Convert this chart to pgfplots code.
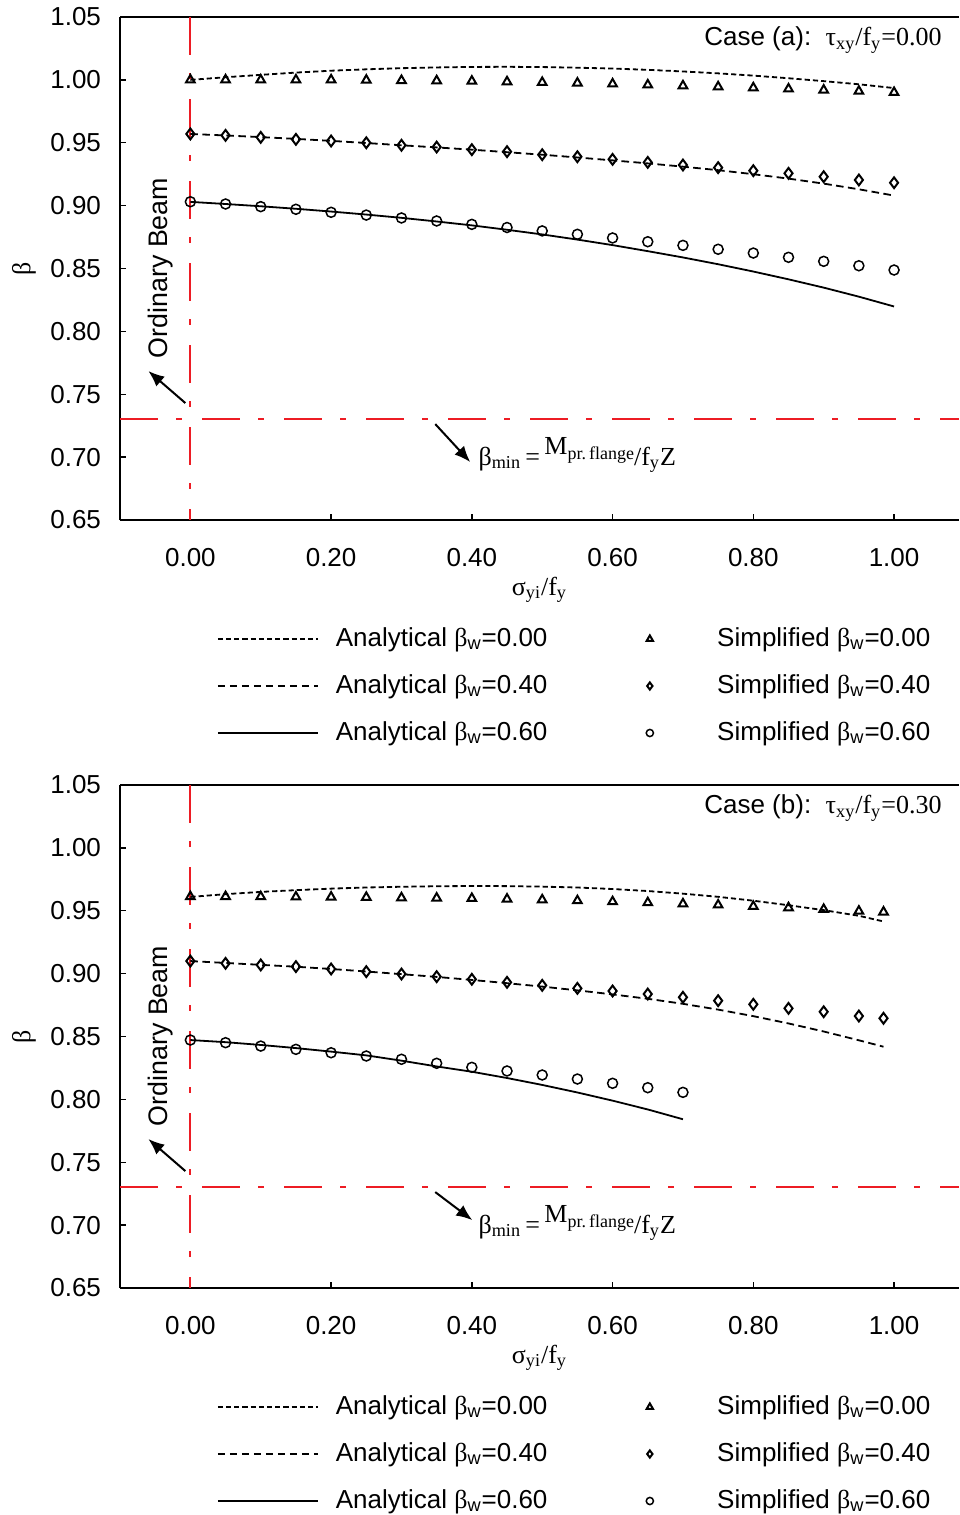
\documentclass[border=0pt]{standalone}
\usepackage{fontspec}
\setmainfont{Liberation Sans}
\newfontfamily\serif{Liberation Serif}
\usepackage{pgfplots}
\pgfplotsset{compat=1.18}
\usetikzlibrary{arrows.meta}
\definecolor{myred}{RGB}{237,28,36}
\newcommand\bw{{\serif β}\textsubscript{w}}
\newcommand\fs{\fontsize{13}{15.6}\selectfont}

\pgfplotsset{
 panel/.style={
  scale only axis, width=419.5pt, height=251.5pt,
  xmin=-0.1, xmax=1.0923, ymin=0.65, ymax=1.05,
  axis x line=box, axis y line=left,
  axis line style={-, line width=0.8pt, black},
  xtick={0,0.2,0.4,0.6,0.8,1.0},
  ytick={0.65,0.7,0.75,0.8,0.85,0.9,0.95,1,1.05},
  xtick pos=left, ytick pos=left,
  tick align=inside, major tick length=3pt,
  tick style={black, line width=0.7pt},
  /pgf/number format/fixed, /pgf/number format/fixed zerofill,
  /pgf/number format/precision=2, /pgf/number format/assume math mode=true,
  tick label style={font=\fs},
  xticklabel style={anchor=base, yshift=-23pt},
  yticklabel style={xshift=-6pt},
  xlabel={{\serif σ\textsubscript{yi}/f\textsubscript{y}}},
  ylabel={{\serif β}},
  label style={font=\fs},
  xlabel style={at={(axis description cs:0.5,0)}, anchor=base, yshift=-37.5pt},
  ylabel style={at={(axis description cs:-0.1144,0.5)}, anchor=center},
  legend columns=2,
  legend cell align=left,
  legend style={draw=none, fill=none, at={(axis description cs:0.1156,-0.2127)}, anchor=north west,
    inner sep=0pt, outer sep=0pt, font=\fs, row sep=11.5pt,
    nodes={inner sep=0pt, text height=9.5pt, text depth=2.5pt},
    /tikz/every odd column/.append style={column sep=8.5pt},
    /tikz/every even column/.append style={column sep=26pt}},
  legend image post style={mark size=1.8pt},
  legend image code/.code={\path (0pt,0pt) (50pt,0pt);\draw[mark repeat=2,mark phase=2,#1] plot coordinates {(0pt,0pt) (25pt,0pt) (50pt,0pt)};},
 },
 redh/.style={draw=myred, color=myred, line width=1pt, dash pattern=on 19pt off 9pt on 3pt off 10pt, forget plot},
 redv/.style={draw=myred, color=myred, line width=1pt, dash pattern=on 19pt off 9pt on 3pt off 10pt, forget plot},
 a0/.style={black, line width=0.9pt, dash pattern=on 2.6pt off 1.5pt, mark=none},
 a4/.style={black, line width=0.9pt, dash pattern=on 3.8pt off 2.2pt, mark=none},
 a6/.style={black, line width=0.9pt, solid, mark=none},
 s0/.style={black, only marks, mark=triangle, mark size=2.5pt, mark options={solid, line width=1pt}},
 s4/.style={black, only marks, mark=diamond, mark size=2.7pt, mark options={solid, line width=1pt}},
 s6/.style={black, only marks, mark=o, mark size=2.5pt, mark options={solid, line width=0.75pt}},
}
\newcommand\bmin{β\textsubscript{min}\,=\,\raisebox{5.5pt}{M{\fontsize{9}{10}\selectfont\raisebox{-2.5pt}{pr.\,flange}}}/f\textsubscript{y}Z}

\begin{document}
\begin{tikzpicture}
% ---------------- Case (a) ----------------
\begin{axis}[panel, at={(60pt,-260pt)}, anchor=south west]
\addplot[redh] coordinates {(-0.1,0.73) (1.0923,0.73)};
\addplot[redv] coordinates {(0,1.05) (0,0.65)};

\addplot[a0] coordinates {(0,1.000) (0.05,1.0021) (0.1,1.004) (0.15,1.0058) (0.2,1.0073) (0.25,1.0084) (0.3,1.0093) (0.35,1.0099) (0.4,1.0103) (0.45,1.0104) (0.5,1.0102) (0.55,1.0097) (0.6,1.009) (0.65,1.008) (0.7,1.0067) (0.75,1.0052) (0.8,1.0034) (0.85,1.0013) (0.9,0.999) (0.95,0.9965) (1.0,0.9935)};
\addlegendentry{Analytical \bw=0.00}
\addplot[s0] coordinates {(0,1.000) (0.05,1.000) (0.1,1.000) (0.15,1.000) (0.2,1.000) (0.25,0.9998) (0.3,0.9995) (0.35,0.9993) (0.4,0.999) (0.45,0.9985) (0.5,0.998) (0.55,0.9975) (0.6,0.9968) (0.65,0.996) (0.7,0.9953) (0.75,0.9945) (0.8,0.9937) (0.85,0.9928) (0.9,0.9919) (0.95,0.991) (1.0,0.990)};
\addlegendentry{Simplified \bw=0.00}
\addplot[a4] coordinates {(0,0.957) (0.05,0.9558) (0.1,0.9545) (0.15,0.9531) (0.2,0.9515) (0.25,0.9498) (0.3,0.948) (0.35,0.9463) (0.4,0.9445) (0.45,0.9425) (0.5,0.9405) (0.55,0.9383) (0.6,0.936) (0.65,0.9336) (0.7,0.931) (0.75,0.9282) (0.8,0.925) (0.85,0.9215) (0.9,0.9175) (0.95,0.913) (1.0,0.908)};
\addlegendentry{Analytical \bw=0.40}
\addplot[s4] coordinates {(0,0.957) (0.05,0.9559) (0.1,0.9543) (0.15,0.9527) (0.2,0.9514) (0.25,0.950) (0.3,0.948) (0.35,0.9466) (0.4,0.9445) (0.45,0.9429) (0.5,0.9405) (0.55,0.9389) (0.6,0.9368) (0.65,0.9344) (0.7,0.9323) (0.75,0.9302) (0.8,0.9278) (0.85,0.9257) (0.9,0.923) (0.95,0.9204) (1.0,0.9182)};
\addlegendentry{Simplified \bw=0.40}
\addplot[a6] coordinates {(0,0.903) (0.05,0.9013) (0.1,0.8995) (0.15,0.8975) (0.2,0.8953) (0.25,0.8929) (0.3,0.8903) (0.35,0.8874) (0.4,0.8843) (0.45,0.8808) (0.5,0.8771) (0.55,0.873) (0.6,0.8686) (0.65,0.8638) (0.7,0.8588) (0.75,0.8534) (0.8,0.8476) (0.85,0.8414) (0.9,0.8348) (0.95,0.8276) (1.0,0.8198)};
\addlegendentry{Analytical \bw=0.60}
\addplot[s6] coordinates {(0,0.9031) (0.05,0.9013) (0.1,0.8992) (0.15,0.8971) (0.2,0.8947) (0.25,0.8925) (0.3,0.8902) (0.35,0.8878) (0.4,0.8851) (0.45,0.8826) (0.5,0.8799) (0.55,0.8772) (0.6,0.8743) (0.65,0.8713) (0.7,0.8684) (0.75,0.8653) (0.8,0.8623) (0.85,0.8589) (0.9,0.8557) (0.95,0.8522) (1.0,0.8488)};
\addlegendentry{Simplified \bw=0.60}

\draw[-{Latex[length=8pt,width=6.5pt]}, line width=1pt] (axis cs:-0.0071,0.743) -- (axis cs:-0.0597,0.7685);
\node[rotate=90, font=\fontsize{13.4}{16}\selectfont, inner sep=0pt] at (axis cs:-0.0426,0.8504) {Ordinary Beam};
\draw[-{Latex[length=8pt,width=6.5pt]}, line width=1pt] (axis cs:0.348,0.7263) -- (axis cs:0.3977,0.6961);
\node[anchor=base west, inner sep=0pt, font=\serif\fontsize{13}{15}\selectfont] at (axis cs:0.409,0.6937) {\bmin};
\node[anchor=base east, inner sep=0pt, font=\fs] at (axis cs:1.068,1.027) {Case (a):\ \ {\serif τ\textsubscript{xy}/f\textsubscript{y}=0.00}};
\end{axis}

% ---------------- Case (b) ----------------
\begin{axis}[panel, at={(60pt,-644pt)}, anchor=south west]
\addplot[redh] coordinates {(-0.1,0.73) (1.0923,0.73)};
\addplot[redv] coordinates {(0,1.05) (0,0.65)};

\addplot[a0] coordinates {(0,0.961) (0.05,0.9632) (0.1,0.965) (0.15,0.9664) (0.2,0.9676) (0.25,0.9685) (0.3,0.9691) (0.35,0.9695) (0.4,0.9697) (0.45,0.9696) (0.5,0.9692) (0.55,0.9685) (0.6,0.9673) (0.65,0.9657) (0.7,0.9636) (0.75,0.9611) (0.8,0.958) (0.85,0.9544) (0.9,0.9505) (0.95,0.946) (0.985,0.9415)};
\addlegendentry{Analytical \bw=0.00}
\addplot[s0] coordinates {(0,0.9612) (0.05,0.9613) (0.1,0.9612) (0.15,0.961) (0.2,0.9609) (0.25,0.9607) (0.3,0.9603) (0.35,0.9601) (0.4,0.9598) (0.45,0.9593) (0.5,0.9587) (0.55,0.958) (0.6,0.9572) (0.65,0.9564) (0.7,0.9555) (0.75,0.9546) (0.8,0.9535) (0.85,0.9524) (0.9,0.9511) (0.95,0.9497) (0.985,0.949)};
\addlegendentry{Simplified \bw=0.00}
\addplot[a4] coordinates {(0,0.910) (0.05,0.9085) (0.1,0.907) (0.15,0.9055) (0.2,0.9037) (0.25,0.9017) (0.3,0.8996) (0.35,0.8974) (0.4,0.895) (0.45,0.8924) (0.5,0.8897) (0.55,0.8867) (0.6,0.8835) (0.65,0.88) (0.7,0.876) (0.75,0.8714) (0.8,0.8662) (0.85,0.8604) (0.9,0.854) (0.95,0.847) (0.985,0.8419)};
\addlegendentry{Analytical \bw=0.40}
\addplot[s4] coordinates {(0,0.910) (0.05,0.9082) (0.1,0.9069) (0.15,0.9056) (0.2,0.9037) (0.25,0.9016) (0.3,0.8997) (0.35,0.8976) (0.4,0.8955) (0.45,0.8931) (0.5,0.8907) (0.55,0.8883) (0.6,0.8862) (0.65,0.8838) (0.7,0.8812) (0.75,0.8785) (0.8,0.8756) (0.85,0.8724) (0.9,0.8697) (0.95,0.8663) (0.985,0.8645)};
\addlegendentry{Simplified \bw=0.40}
\addplot[a6] coordinates {(0,0.8472) (0.05,0.8455) (0.1,0.8433) (0.15,0.8408) (0.2,0.838) (0.25,0.835) (0.3,0.8308) (0.35,0.8262) (0.4,0.822) (0.45,0.817) (0.5,0.8115) (0.55,0.8055) (0.6,0.799) (0.65,0.792) (0.7,0.7842)};
\addlegendentry{Analytical \bw=0.60}
\addplot[s6] coordinates {(0,0.8472) (0.05,0.8451) (0.1,0.8424) (0.15,0.8398) (0.2,0.8371) (0.25,0.8345) (0.3,0.8319) (0.35,0.8287) (0.4,0.8255) (0.45,0.8226) (0.5,0.8194) (0.55,0.8162) (0.6,0.8128) (0.65,0.8093) (0.7,0.8056)};
\addlegendentry{Simplified \bw=0.60}

\draw[-{Latex[length=8pt,width=6.5pt]}, line width=1pt] (axis cs:-0.0071,0.743) -- (axis cs:-0.0597,0.7685);
\node[rotate=90, font=\fontsize{13.4}{16}\selectfont, inner sep=0pt] at (axis cs:-0.0426,0.8504) {Ordinary Beam};
\draw[-{Latex[length=8pt,width=6.5pt]}, line width=1pt] (axis cs:0.348,0.7263) -- (axis cs:0.4006,0.704);
\node[anchor=base west, inner sep=0pt, font=\serif\fontsize{13}{15}\selectfont] at (axis cs:0.409,0.6937) {\bmin};
\node[anchor=base east, inner sep=0pt, font=\fs] at (axis cs:1.068,1.027) {Case (b):\ \ {\serif τ\textsubscript{xy}/f\textsubscript{y}=0.30}};
\end{axis}

\pgfresetboundingbox
\useasboundingbox (0pt,0pt) rectangle (479.5pt,-757.5pt);
\end{tikzpicture}
\end{document}
